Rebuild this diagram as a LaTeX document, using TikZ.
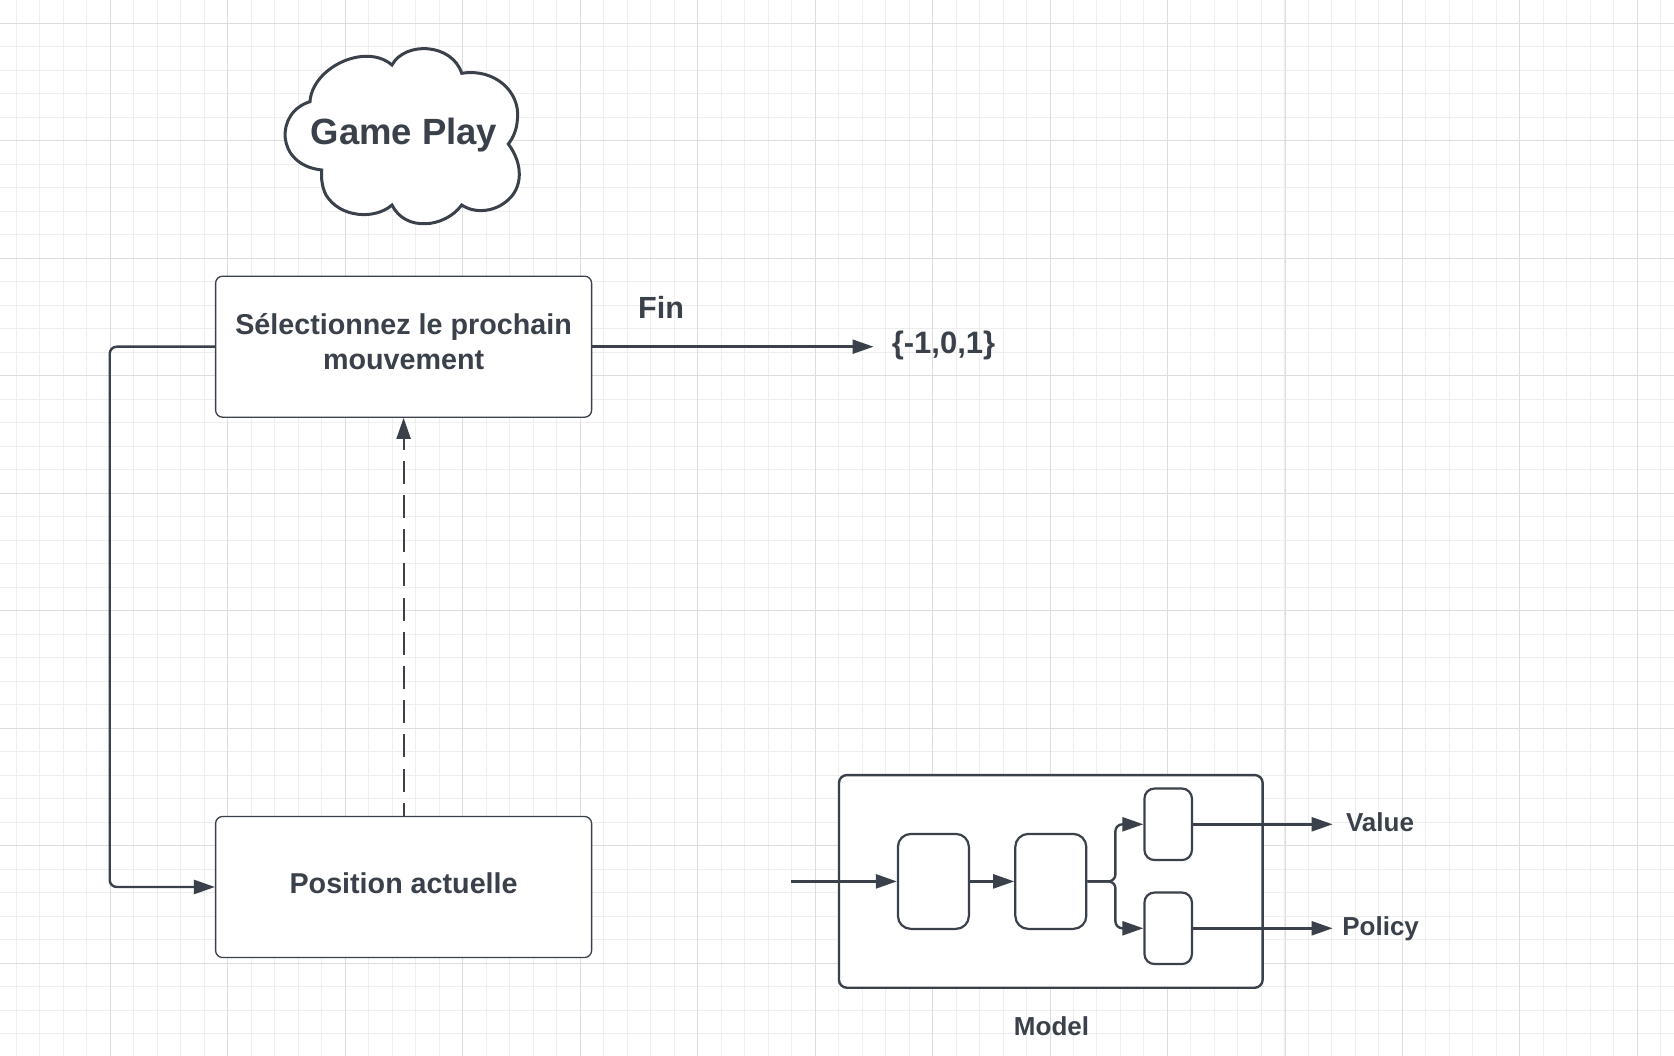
\documentclass[tikz,border=0pt]{standalone}
\usepackage{fontspec}
\setmainfont{Liberation Sans}
\usetikzlibrary{arrows.meta}
\definecolor{ink}{HTML}{3A414A}
\definecolor{gridminor}{HTML}{EEEEEE}
\definecolor{gridmajor}{HTML}{DDDDDD}

\begin{document}
\begin{tikzpicture}[x=1pt, y=-1pt, font=\bfseries, text=ink,
  gamebox/.style={draw=ink, line width=1.3pt, fill=white, rounded corners=7pt,
    minimum width=376pt, minimum height=141pt, align=center, font=\fontsize{28.7}{35}\bfseries},
  netblock/.style={draw=ink, line width=2.2pt, fill=white, rounded corners=13pt, minimum width=71pt, minimum height=95pt},
  headblock/.style={draw=ink, line width=2.2pt, fill=white, rounded corners=10pt, minimum width=47.5pt, minimum height=71.5pt},
  link/.style={draw=ink, line width=2.4pt, rounded corners=7pt, -{Triangle[length=21pt,width=14pt]}},
  smalllabel/.style={font=\fontsize{26}{30}\bfseries}]

\useasboundingbox (0,0) rectangle (1674,1056);

\foreach \i in {0,...,71} {
  \pgfmathsetmacro{\gridx}{floor(16.44+23.49*\i)+0.5}
  \draw [gridminor, line width=1.5pt] (\gridx,0) -- (\gridx,1056);
}
\foreach \i in {0,...,44} {
  \pgfmathsetmacro{\gridy}{floor(23.5+23.49*\i)+0.5}
  \draw [gridminor, line width=1.5pt] (0,\gridy) -- (1674,\gridy);
}
\foreach \i in {0,...,13} {
  \pgfmathsetmacro{\gridx}{floor(110.4+117.46*\i)+0.5}
  \draw [gridmajor, line width=1.5pt] (\gridx,0) -- (\gridx,1056);
}
\foreach \i in {0,...,8} {
  \pgfmathsetmacro{\gridy}{floor(23.5+117.46*\i)+0.5}
  \draw [gridmajor, line width=1.5pt] (0,\gridy) -- (1674,\gridy);
}

\draw [ink, line width=3pt, fill=white]
  (310,101.7) .. controls (312,68) and (365,42) .. (392,65)
  .. controls (405,41) and (452,43) .. (461.7,73.3)
  .. controls (495,68) and (520,92) .. (517.5,118)
  .. controls (517,130) and (513,138) .. (508.3,144)
  .. controls (524,165) and (522,188) .. (508,200)
  .. controls (495,212) and (475,214) .. (461.7,205)
  .. controls (445,228) and (405,232) .. (392,205)
  .. controls (375,220) and (340,218) .. (326,195)
  .. controls (322,187) and (321,178) .. (321.7,170)
  .. controls (275,165) and (275,112) .. (310,101.7) -- cycle;
\node [font=\fontsize{36.5}{44}\bfseries] (title) at (404,135) {Game Play};

\node [gamebox, text depth=11pt] (select) at (403.6,346.7) {Sélectionnez le prochain\\mouvement};
\node [gamebox, text depth=7.5pt] (position) at (403.6,887) {Position actuelle};
\node [font=\fontsize{30.6}{36}\bfseries] (fin) at (661,307.5) {Fin};
\node [font=\fontsize{31}{36}\bfseries, inner sep=0pt] (result) at (943.5,345) {\{-1,0,1\}};
\coordinate (resulttip) at (873.5,346.7);

\node [draw=ink, line width=2.4pt, fill=white, rounded corners=8pt, minimum width=423.7pt, minimum height=212.7pt] (model) at (1050.8,881.4) {};
\node [netblock] (blocka) at (933.4,881.4) {};
\node [netblock] (blockb) at (1050.8,881.4) {};
\node [headblock] (value) at (1168.2,824.3) {};
\node [headblock] (policy) at (1168.2,928.3) {};
\coordinate (input) at (790.5,881.4);
\coordinate (valuetip) at (1332.6,824.3);
\coordinate (policytip) at (1332.6,928.3);
\node [smalllabel] (valuelabel) at (1380,822) {Value};
\node [smalllabel] (policylabel) at (1380.6,928.5) {Policy};
\node [smalllabel] (modellabel) at (1051.5,1026) {Model};

\draw [link] (select.west) -| (109.7,887) -- (position.west);
\draw [link] (select.east) -- (resulttip);
\draw [link, line width=2pt, dash pattern=on 23pt off 11.2pt, dash phase=10pt] (position.north) -- (select.south);
\draw [link] (input) -- (blocka.west);
\draw [link] (blocka.east) -- (blockb.west);
\draw [link] (blockb.east) -- (1115.4,881.4) |- (value.west);
\draw [link] (blockb.east) -- (1115.4,881.4) |- (policy.west);
\draw [link] (value.east) -- (valuetip);
\draw [link] (policy.east) -- (policytip);

\end{tikzpicture}
\end{document}
